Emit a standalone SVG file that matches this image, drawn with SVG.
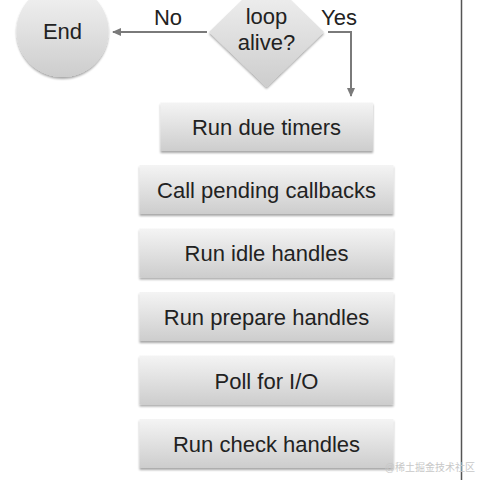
<svg xmlns="http://www.w3.org/2000/svg" width="480" height="480" viewBox="0 0 480 480">
<style>
.t{font-family:"Liberation Sans","Helvetica",Arial,sans-serif;font-size:22px;fill:#222;text-anchor:middle}
.box{fill:url(#g);filter:url(#sh)}
.c{stroke:#7a7a7a;stroke-width:2;fill:none}
</style>
<defs>
<linearGradient id="g" x1="0" y1="0" x2="0" y2="1">
<stop offset="0" stop-color="#f4f4f4"/>
<stop offset="1" stop-color="#cdcdcd"/>
</linearGradient>
<filter id="sh" x="-10%" y="-10%" width="120%" height="130%">
<feGaussianBlur in="SourceAlpha" stdDeviation="1.2"/>
<feOffset dy="1.5"/>
<feComponentTransfer><feFuncA type="linear" slope="0.35"/></feComponentTransfer>
<feMerge><feMergeNode/><feMergeNode in="SourceGraphic"/></feMerge>
</filter>
<marker id="ah" markerWidth="10" markerHeight="10" refX="8" refY="5" orient="auto" markerUnits="userSpaceOnUse">
<path d="M0,1 L9,5 L0,9 Z" fill="#7a7a7a"/>
</marker>
</defs>
<rect width="480" height="480" fill="#fff"/>
<line x1="461.5" y1="0" x2="461.5" y2="480" stroke="#555" stroke-width="1.5"/>
<g id="connectors">
<line class="c" x1="207" y1="32" x2="113" y2="32" marker-end="url(#ah)"/>
<polyline class="c" points="328,32 351,32 351,96" marker-end="url(#ah)"/>
<text class="t" x="168" y="25">No</text>
<text class="t" x="339" y="25">Yes</text>
</g>
<g id="end">
<circle cx="62.5" cy="31" r="46" class="box"/>
<text class="t" x="62.5" y="39">End</text>
</g>
<g id="loop">
<polygon points="266.5,-24 324,32 266.5,87 209,32" class="box"/>
<text class="t" x="266.5" y="24">loop</text>
<text class="t" x="266.5" y="50">alive?</text>
</g>
<g id="timers">
<rect x="160.5" y="102.5" width="212.5" height="48.5" class="box"/>
<text class="t" x="266.5" y="134.5">Run due timers</text>
</g>
<g id="pending">
<rect x="139.5" y="165" width="254" height="49" class="box"/>
<text class="t" x="266.5" y="197.5">Call pending callbacks</text>
</g>
<g id="idle">
<rect x="139.5" y="228.5" width="254" height="49" class="box"/>
<text class="t" x="266.5" y="261">Run idle handles</text>
</g>
<g id="prepare">
<rect x="139.5" y="292" width="254" height="49" class="box"/>
<text class="t" x="266.5" y="324.5">Run prepare handles</text>
</g>
<g id="poll">
<rect x="139.5" y="355.5" width="254" height="49" class="box"/>
<text class="t" x="266.5" y="388.5">Poll for I/O</text>
</g>
<g id="check">
<rect x="139.5" y="419" width="254" height="49" class="box"/>
<text class="t" x="266.5" y="452">Run check handles</text>
</g>
<text x="475" y="471" style="font-family:'Liberation Sans','Noto Sans CJK SC',sans-serif;font-size:10px;fill:#c8c8c8;text-anchor:end">@稀土掘金技术社区</text>
</svg>
